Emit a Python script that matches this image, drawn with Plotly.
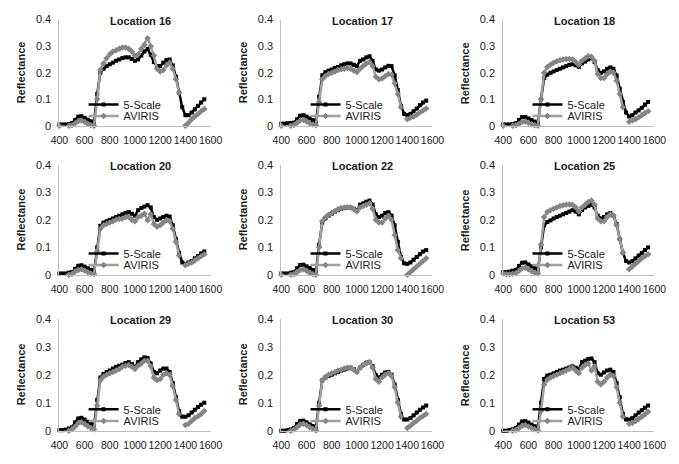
import plotly.graph_objects as go

# ---------------- data ----------------
WAVELENGTH = [400, 425, 450, 475, 500, 525, 550, 575, 600, 625, 650, 675, 700, 725,
              750, 775, 800, 825, 850, 875, 900, 925, 950, 975, 1000, 1025, 1050, 1075,
              1100, 1125, 1150, 1175, 1200, 1225, 1250, 1275, 1300, 1325, 1350, 1375,
              1400, 1425, 1450, 1475, 1500, 1525, 1550]

LOCATIONS = ["Location 16", "Location 17", "Location 18",
             "Location 20", "Location 22", "Location 25",
             "Location 29", "Location 30", "Location 53"]

L16_5SCALE = [0.005,0.005,0.005,0.007,0.01,0.022,0.035,0.036,0.03,0.023,0.017,0.012,0.12,0.2,0.215,0.225,0.232,0.238,0.245,0.25,0.255,0.258,0.258,0.252,0.245,0.25,0.265,0.28,0.29,0.268,0.24,0.225,0.225,0.238,0.248,0.25,0.228,0.185,0.125,0.07,0.04,0.04,0.05,0.062,0.075,0.088,0.1]
L16_AVIRIS = [0.0,-0.003,-0.003,0.0,0.002,0.01,0.018,0.02,0.015,0.008,0.003,0.0,0.1,0.21,0.235,0.255,0.27,0.28,0.285,0.29,0.295,0.295,0.29,0.28,0.265,0.27,0.29,0.305,0.33,0.3,0.265,0.215,0.205,0.21,0.228,0.238,0.215,0.175,0.125,None,0.0,0.012,0.025,0.035,0.045,0.055,0.063]

L17_5SCALE = [0.008,0.008,0.01,0.01,0.012,0.025,0.038,0.04,0.035,0.028,0.022,0.016,0.11,0.19,0.202,0.208,0.212,0.218,0.222,0.228,0.232,0.235,0.235,0.23,0.225,0.245,0.25,0.258,0.262,0.245,0.212,0.208,0.212,0.22,0.226,0.225,0.19,0.135,0.075,0.045,0.04,0.045,0.055,0.065,0.078,0.088,0.095]
L17_AVIRIS = [0.0,-0.003,-0.002,0.0,0.003,0.012,0.02,0.022,0.016,0.01,0.005,0.002,0.09,0.175,0.188,0.195,0.2,0.205,0.21,0.213,0.215,0.218,0.215,0.208,0.203,0.215,0.225,0.235,0.24,0.225,0.185,0.175,0.178,0.188,0.195,0.192,0.16,0.12,0.07,None,0.025,0.03,0.035,0.042,0.05,0.058,0.065]

L18_5SCALE = [0.005,0.005,0.005,0.007,0.01,0.022,0.033,0.033,0.028,0.022,0.016,0.01,0.1,0.18,0.193,0.2,0.205,0.21,0.215,0.22,0.225,0.23,0.232,0.228,0.222,0.235,0.242,0.25,0.255,0.24,0.21,0.2,0.205,0.215,0.22,0.215,0.19,0.14,0.09,0.05,0.035,0.04,0.05,0.058,0.068,0.08,0.09]
L18_AVIRIS = [0.0,-0.003,-0.003,0.0,0.002,0.008,0.015,0.016,0.012,0.006,0.002,0.0,0.1,0.2,0.222,0.23,0.238,0.243,0.247,0.25,0.252,0.252,0.25,0.24,0.23,0.245,0.255,0.262,0.26,0.245,0.195,0.18,0.18,0.195,0.205,0.2,0.17,0.12,0.07,None,0.015,0.02,0.025,0.032,0.04,0.048,0.055]

L20_5SCALE = [0.005,0.005,0.005,0.008,0.01,0.022,0.033,0.035,0.03,0.024,0.018,0.012,0.1,0.178,0.19,0.195,0.2,0.205,0.21,0.215,0.22,0.225,0.228,0.222,0.215,0.235,0.243,0.248,0.253,0.245,0.21,0.2,0.205,0.21,0.215,0.212,0.18,0.13,0.08,0.045,0.04,0.045,0.05,0.06,0.068,0.078,0.085]
L20_AVIRIS = [-0.003,-0.005,-0.003,0.0,0.003,0.012,0.018,0.02,0.016,0.01,0.005,0.003,0.085,0.168,0.18,0.185,0.19,0.195,0.2,0.203,0.205,0.21,0.21,0.2,0.195,0.21,0.215,0.222,0.198,0.22,0.185,0.175,0.18,0.19,0.198,0.195,0.168,0.12,0.07,None,0.035,0.04,0.045,0.052,0.06,0.068,0.075]

L22_5SCALE = [0.005,0.005,0.005,0.008,0.01,0.024,0.036,0.037,0.031,0.025,0.018,0.012,0.11,0.19,0.205,0.215,0.222,0.23,0.235,0.24,0.243,0.245,0.245,0.24,0.235,0.255,0.26,0.266,0.27,0.255,0.22,0.21,0.215,0.225,0.228,0.215,0.18,0.12,0.065,0.042,0.04,0.045,0.055,0.065,0.075,0.085,0.09]
L22_AVIRIS = [0.0,-0.003,-0.002,0.0,0.003,0.01,0.018,0.02,0.015,0.008,0.003,0.0,0.1,0.195,0.208,0.218,0.225,0.232,0.238,0.243,0.245,0.246,0.245,0.238,0.23,0.245,0.25,0.255,0.26,0.24,0.2,0.19,0.19,0.205,0.215,0.2,0.145,0.09,0.06,None,0.0,0.01,0.02,0.03,0.04,0.05,0.06]

L25_5SCALE = [0.01,0.01,0.012,0.015,0.018,0.032,0.044,0.045,0.038,0.03,0.024,0.018,0.1,0.18,0.192,0.198,0.205,0.21,0.215,0.22,0.225,0.23,0.235,0.23,0.22,0.235,0.245,0.25,0.255,0.245,0.215,0.205,0.21,0.22,0.225,0.215,0.185,0.13,0.08,0.05,0.045,0.05,0.06,0.07,0.08,0.09,0.1]
L25_AVIRIS = [0.005,0.002,0.002,0.004,0.006,0.015,0.024,0.026,0.02,0.014,0.008,0.005,0.11,0.21,0.228,0.235,0.24,0.245,0.25,0.253,0.255,0.256,0.255,0.245,0.23,0.245,0.255,0.265,0.27,0.255,0.205,0.195,0.195,0.21,0.22,0.215,0.18,0.13,0.08,None,0.02,0.03,0.04,0.05,0.06,0.068,0.075]

L29_5SCALE = [0.002,0.002,0.004,0.008,0.012,0.03,0.044,0.046,0.04,0.032,0.025,0.018,0.11,0.19,0.203,0.21,0.215,0.222,0.228,0.232,0.236,0.242,0.245,0.238,0.228,0.245,0.255,0.262,0.26,0.24,0.21,0.205,0.215,0.222,0.222,0.21,0.17,0.12,0.07,0.05,0.05,0.055,0.065,0.075,0.085,0.093,0.1]
L29_AVIRIS = [-0.003,-0.005,-0.003,0.0,0.005,0.015,0.028,0.03,0.024,0.016,0.01,0.005,0.09,0.18,0.193,0.2,0.205,0.21,0.215,0.22,0.228,0.232,0.235,0.228,0.22,0.232,0.24,0.25,0.25,0.23,0.19,0.18,0.185,0.2,0.205,0.2,0.16,0.11,0.06,None,0.02,0.025,0.035,0.045,0.052,0.06,0.07]

L30_5SCALE = [0.0,0.0,0.002,0.005,0.01,0.024,0.035,0.036,0.03,0.023,0.017,0.011,0.1,0.18,0.19,0.195,0.2,0.205,0.21,0.215,0.218,0.222,0.225,0.22,0.212,0.225,0.235,0.243,0.245,0.23,0.2,0.19,0.2,0.208,0.21,0.2,0.165,0.11,0.06,0.04,0.04,0.045,0.055,0.065,0.075,0.083,0.09]
L30_AVIRIS = [-0.003,-0.005,-0.004,0.0,0.004,0.012,0.022,0.025,0.02,0.012,0.006,0.002,0.09,0.18,0.192,0.2,0.205,0.21,0.215,0.218,0.222,0.225,0.225,0.218,0.21,0.225,0.235,0.24,0.245,0.225,0.185,0.175,0.19,0.2,0.205,0.195,0.155,0.1,0.05,None,0.01,0.018,0.028,0.036,0.045,0.053,0.06]

L53_5SCALE = [0.0,0.0,0.002,0.005,0.01,0.022,0.033,0.034,0.029,0.022,0.016,0.01,0.1,0.185,0.197,0.2,0.205,0.21,0.215,0.218,0.222,0.226,0.23,0.225,0.22,0.245,0.25,0.256,0.258,0.245,0.205,0.2,0.208,0.215,0.218,0.21,0.17,0.12,0.06,0.04,0.04,0.045,0.055,0.065,0.073,0.082,0.09]
L53_AVIRIS = [-0.003,-0.004,-0.003,0.0,0.003,0.01,0.018,0.02,0.015,0.01,0.005,0.002,0.07,0.165,0.182,0.19,0.195,0.2,0.205,0.21,0.215,0.22,0.225,0.215,0.205,0.225,0.235,0.24,0.215,0.23,0.175,0.165,0.175,0.19,0.2,0.195,0.155,0.1,0.05,None,0.025,0.028,0.035,0.042,0.05,0.058,0.068]

SERIES_5SCALE = [L16_5SCALE, L17_5SCALE, L18_5SCALE, L20_5SCALE, L22_5SCALE,
                 L25_5SCALE, L29_5SCALE, L30_5SCALE, L53_5SCALE]
SERIES_AVIRIS = [L16_AVIRIS, L17_AVIRIS, L18_AVIRIS, L20_AVIRIS, L22_AVIRIS,
                 L25_AVIRIS, L29_AVIRIS, L30_AVIRIS, L53_AVIRIS]

SERIES_NAMES = ["5-Scale", "AVIRIS"]
X_TICKS = [400, 600, 800, 1000, 1200, 1400, 1600]
Y_TICKS = [0, 0.1, 0.2, 0.3, 0.4]
Y_TICK_TEXT = ["0", "0.1", "0.2", "0.3", "0.4"]

# ---------------- layout geometry (pixels) ----------------
W, H = 679, 464
COL_LEFT = [52, 281, 510]
PLOT_W = 156
ROW_TOP = [14, 163, 321]
ROW_BOT = [123, 276, 436]
FONT = "Arial, Liberation Sans, sans-serif"
TEXT_COLOR = "#1a1a1a"
AXIS_COLOR = "#bfbfbf"

STYLE_5S = dict(line=dict(color="#000000", width=2.5),
                marker=dict(symbol="square", size=4, color="#000000"))
STYLE_AV = dict(line=dict(color="#a0a0a0", width=2.5),
                marker=dict(symbol="diamond", size=5, color="#858585"))

fig = go.Figure()
layout = dict(width=W, height=H, margin=dict(l=0, r=0, t=0, b=0), autosize=False,
              paper_bgcolor="white", plot_bgcolor="white", showlegend=True,
              font=dict(family=FONT, size=11, color=TEXT_COLOR),
              annotations=[])


def legend_id(n):
    return "legend" if n == 1 else f"legend{n}"


for i, name in enumerate(LOCATIONS):
    r, c = divmod(i, 3)
    k = i + 1
    xa = "x" if k == 1 else f"x{k}"
    ya = "y" if k == 1 else f"y{k}"
    lg_a = legend_id(2 * i + 1)
    lg_b = legend_id(2 * i + 2)
    left = COL_LEFT[c]
    top, bot = ROW_TOP[r], ROW_BOT[r]

    fig.add_trace(go.Scatter(
        x=WAVELENGTH, y=SERIES_5SCALE[i], name=SERIES_NAMES[0], mode="lines+markers",
        xaxis=xa, yaxis=ya, legend=lg_a, showlegend=True, cliponaxis=False,
        connectgaps=False, **STYLE_5S))
    fig.add_trace(go.Scatter(
        x=WAVELENGTH, y=SERIES_AVIRIS[i], name=SERIES_NAMES[1], mode="lines+markers",
        xaxis=xa, yaxis=ya, legend=lg_b, showlegend=True, cliponaxis=False,
        connectgaps=False, **STYLE_AV))

    layout["xaxis" if k == 1 else f"xaxis{k}"] = dict(
        domain=[left / W, (left + PLOT_W) / W], anchor=ya, range=[400, 1600],
        tickvals=X_TICKS, tickangle=0, showline=True, linecolor=AXIS_COLOR, linewidth=1,
        ticks="", showgrid=False, zeroline=False, fixedrange=True,
        tickfont=dict(size=10.5, color=TEXT_COLOR), ticklabelstandoff=5)
    layout["yaxis" if k == 1 else f"yaxis{k}"] = dict(
        domain=[1 - bot / H, 1 - top / H], anchor=xa, range=[0, 0.4],
        tickvals=Y_TICKS, ticktext=Y_TICK_TEXT, showline=True, linecolor=AXIS_COLOR,
        linewidth=1, ticks="", showgrid=False, zeroline=False, fixedrange=True,
        tickfont=dict(size=11, color=TEXT_COLOR), ticklabelstandoff=5)
    for lg, dy in ((lg_a, 22), (lg_b, 10)):
        layout[lg] = dict(x=(left + 25) / W, y=1 - (bot - dy) / H, xanchor="left",
                          yanchor="middle", bgcolor="rgba(0,0,0,0)", borderwidth=0,
                          font=dict(size=11, color=TEXT_COLOR), itemwidth=30)
    # panel title
    layout["annotations"].append(dict(
        text=f"<b>{name}</b>", x=(left + 84) / W, y=1 - (top + 1) / H,
        xref="paper", yref="paper", xanchor="center", yanchor="middle",
        showarrow=False, font=dict(size=11, color=TEXT_COLOR)))
    # y-axis title
    layout["annotations"].append(dict(
        text="<b>Reflectance</b>", x=(left - 40) / W, y=1 - ((top + bot) / 2) / H,
        xref="paper", yref="paper", xanchor="center", yanchor="middle",
        textangle=-90, showarrow=False, font=dict(size=11, color=TEXT_COLOR)))

fig.update_layout(**layout)
fig.write_html("out.html")
